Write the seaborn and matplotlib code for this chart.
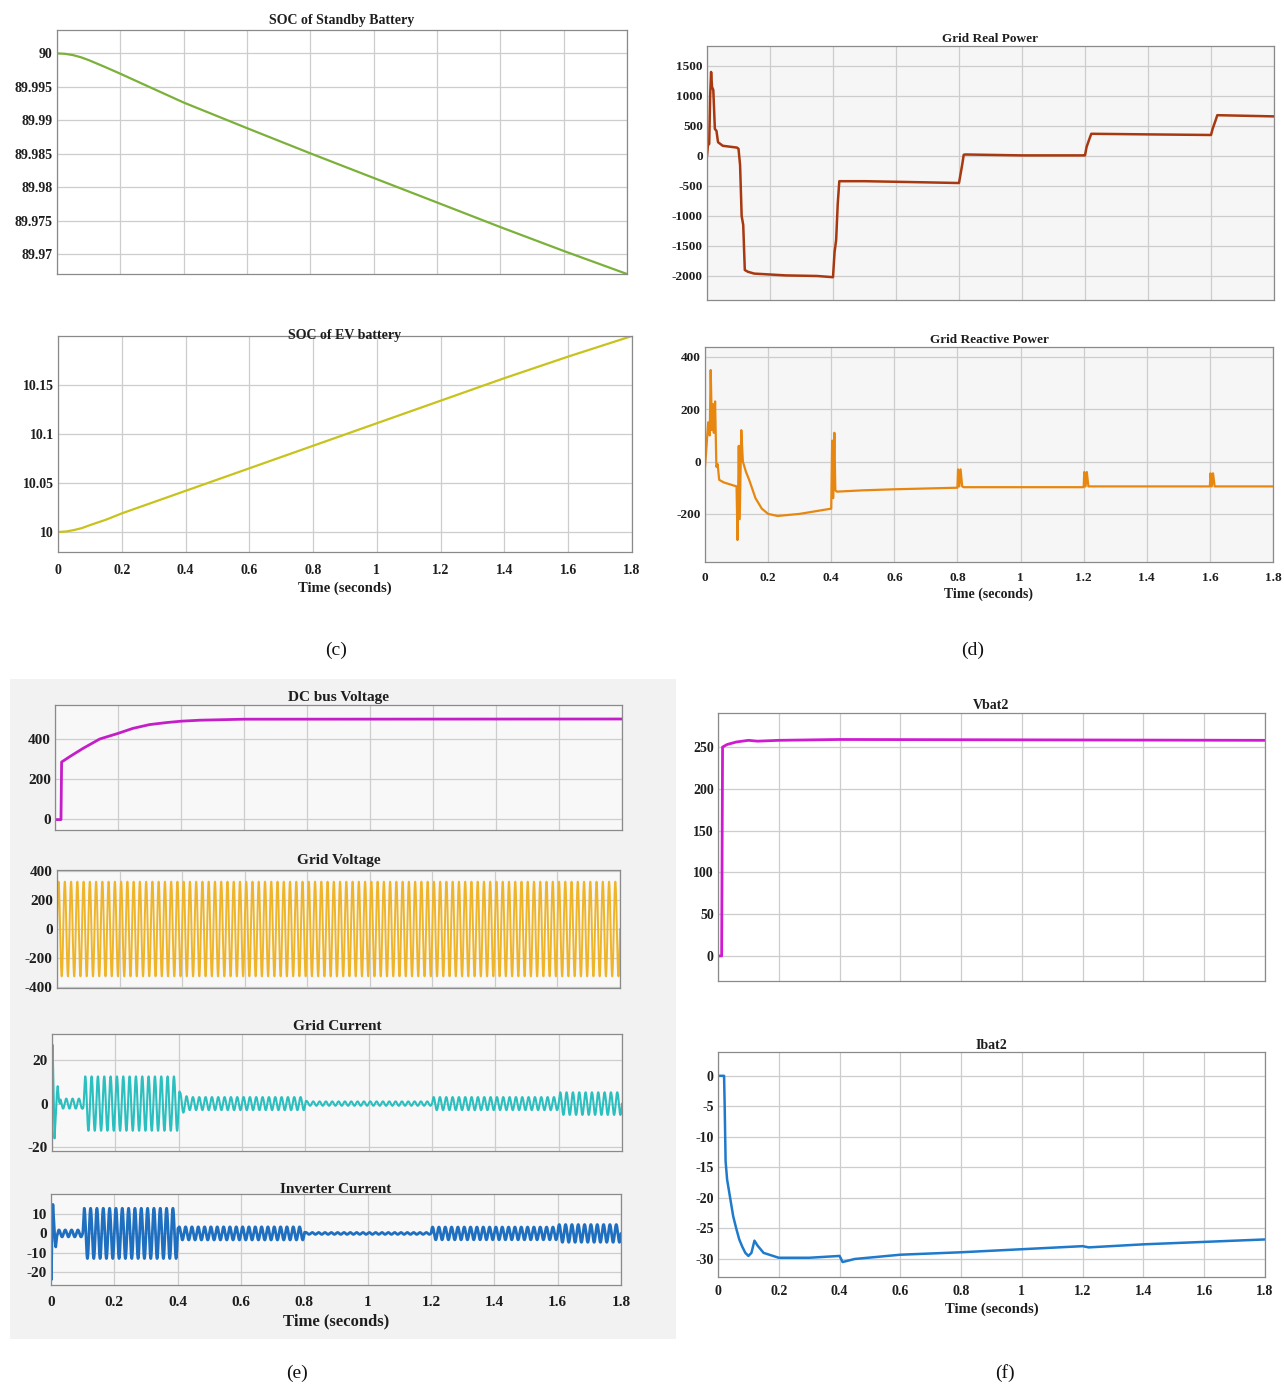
import numpy as np
import matplotlib
matplotlib.use("Agg")
import matplotlib.pyplot as plt
import seaborn as sns
from matplotlib.patches import Rectangle

sns.set_theme(style="whitegrid")
plt.rcParams['font.family'] = ['Liberation Serif', 'DejaVu Serif']
plt.rcParams['font.weight'] = 'bold'
plt.rcParams['axes.unicode_minus'] = False

W, H = 1284, 1387
GRID_FREQ = 50.0          # Hz
DT = 1e-4                 # simulation step, s
T_END = 1.8

time_ticks = [0, 0.2, 0.4, 0.6, 0.8, 1.0, 1.2, 1.4, 1.6, 1.8]
time_tick_labels = ["0", "0.2", "0.4", "0.6", "0.8", "1", "1.2", "1.4", "1.6", "1.8"]

# ---- (c) state of charge ----
soc_sb_t = [0, 0.025, 0.05, 0.075, 0.1, 0.15, 0.2, 0.3, 0.4, 0.6, 0.8, 1.0, 1.2, 1.4, 1.6, 1.8]
soc_sb_v = [90.0, 89.99994, 89.99975, 89.99943, 89.9990, 89.9980, 89.99696, 89.99480,
            89.99265, 89.98882, 89.98505, 89.98137, 89.97770, 89.97402, 89.97045, 89.96700]

soc_ev_t = [0, 0.025, 0.05, 0.075, 0.1, 0.15, 0.2, 0.4, 0.6, 0.8, 1.0, 1.2, 1.4, 1.6, 1.8]
soc_ev_v = [10.0, 10.0005, 10.002, 10.004, 10.007, 10.0125, 10.019, 10.042, 10.065,
            10.088, 10.111, 10.134, 10.157, 10.179, 10.2]

# ---- (d) grid powers ----
rp_t = [0, 0.003, 0.007, 0.01, 0.013, 0.016, 0.02, 0.025, 0.03, 0.035,
        0.05, 0.095, 0.1, 0.105, 0.11, 0.115, 0.12, 0.13, 0.15, 0.25,
        0.35, 0.4, 0.405, 0.41, 0.415, 0.42, 0.5, 0.6, 0.7, 0.795,
        0.8, 0.805, 0.81, 0.815, 0.82, 1.0, 1.195, 1.2, 1.205, 1.215,
        1.22, 1.4, 1.6, 1.605, 1.615, 1.62, 1.8]
rp_v = [0, 180, 200, 1000, 1400, 1150, 1100, 450, 420, 230,
        170, 140, 120, -150, -1000, -1150, -1900, -1930, -1960, -1990,
        -2000, -2020, -1600, -1400, -800, -420, -420, -430, -440, -450,
        -450, -300, -150, 20, 25, 10, 10, 10, 150, 300,
        370, 360, 350, 450, 600, 680, 660]

rq_t = [0, 0.005, 0.01, 0.015, 0.018, 0.022, 0.025, 0.028, 0.032, 0.036,
        0.04, 0.045, 0.06, 0.1, 0.103, 0.107, 0.11, 0.115, 0.12, 0.13,
        0.14, 0.16, 0.18, 0.2, 0.23, 0.3, 0.4, 0.403, 0.406, 0.41,
        0.413, 0.418, 0.5, 0.6, 0.8, 0.802, 0.806, 0.81, 0.815, 0.82,
        1.2, 1.202, 1.206, 1.21, 1.215, 1.22, 1.6, 1.602, 1.606, 1.61,
        1.615, 1.62, 1.8]
rq_v = [-20, 60, 150, 100, 350, 120, 220, 110, 230, -20,
        -10, -70, -80, -95, -300, 60, -220, 120, 0, -40,
        -70, -140, -180, -200, -208, -200, -180, 80, -140, 110,
        -110, -115, -110, -106, -100, -30, -95, -30, -95, -98,
        -98, -40, -95, -40, -95, -95, -95, -45, -95, -45,
        -95, -95, -95]

# ---- (e) converter / grid quantities ----
dc_t = [0, 0.019, 0.021, 0.05, 0.09, 0.142, 0.2, 0.247, 0.3, 0.353, 0.4, 0.46, 0.6, 1.8]
dc_v = [-3, -3, 285, 315, 354, 400, 428, 453, 472, 482, 489, 494, 499, 500]

vg_env_t = [0, 1.8]
vg_env_a = [325, 325]

ig_tr_t = [0, 0.002, 0.005, 0.008, 0.012, 0.015, 0.018, 0.022, 0.025]
ig_tr_v = [0, 27, 5, -16, -6, 4, 8, 1, 0]
ig_env_t = [0, 0.025, 0.027, 0.097, 0.104, 0.4, 0.404, 0.43, 0.8, 0.804,
            1.2, 1.204, 1.6, 1.604, 1.8]
ig_env_a = [0, 0, 2.3, 2.3, 12.5, 12.5, 5, 3, 3, 1, 1, 3, 3, 5.2, 5.2]

ii_tr_t = [0, 0.001, 0.003, 0.006, 0.009, 0.012, 0.015, 0.018, 0.021]
ii_tr_v = [0, -24, 0, 15, 6, -3, -7, -2, 0]
ii_env_t = [0, 0.021, 0.023, 0.1, 0.104, 0.4, 0.402, 0.8, 0.802,
            1.2, 1.202, 1.6, 1.602, 1.8]
ii_env_a = [0, 0, 1.8, 1.8, 13, 13, 3.4, 3.4, 0.5, 0.5, 3.3, 3.3, 4.6, 4.6]

# ---- (f) battery 2 ----
vb_t = [0, 0.012, 0.015, 0.03, 0.06, 0.1, 0.13, 0.2, 0.4, 1.8]
vb_v = [0, 0, 250, 253, 256, 258, 257, 258, 259, 258]

ib_t = [0, 0.02, 0.022, 0.025, 0.03, 0.04, 0.05, 0.06, 0.07, 0.08, 0.09, 0.1, 0.11,
        0.12, 0.13, 0.15, 0.2, 0.3, 0.4, 0.41, 0.45, 0.6, 0.8,
        1.0, 1.2, 1.22, 1.4, 1.6, 1.8]
ib_v = [0, 0, -5, -14, -17, -20, -23, -25, -26.8, -28, -29, -29.5, -29,
        -27, -27.8, -29, -29.8, -29.8, -29.5, -30.5, -30, -29.3, -28.9,
        -28.4, -27.9, -28.1, -27.6, -27.2, -26.8]

captions = ["(c)", "(d)", "(e)", "(f)"]


def ac_signal(env_t, env_a, tr_t=None, tr_v=None):
    """AC waveform at grid frequency with a piecewise amplitude envelope."""
    t = np.arange(0, T_END + DT / 2, DT)
    y = np.interp(t, env_t, env_a) * np.sin(2 * np.pi * GRID_FREQ * t)
    if tr_t is not None:
        mask = t <= tr_t[-1]
        y[mask] += np.interp(t[mask], tr_t, tr_v)
    return t, y


fig = plt.figure(figsize=(W / 100, H / 100), dpi=100)
fig.patch.set_facecolor("white")

# light panel behind group (e)
fig.patches.append(Rectangle((10 / W, 1 - 1339 / H), 666 / W, 660 / H,
                             transform=fig.transFigure, facecolor="#f2f2f2",
                             edgecolor="none", zorder=-5))


def make_axes(box, ylim, yticks, ylabels, title, title_pad, face="white",
              fs=10, xlabels=False, xpad=8):
    x0, y0, x1, y1 = box
    ax = fig.add_axes([x0 / W, 1 - y1 / H, (x1 - x0) / W, (y1 - y0) / H])
    ax.set_facecolor(face)
    ax.set_xlim(0, T_END)
    ax.set_ylim(*ylim)
    ax.set_xticks(time_ticks)
    ax.set_yticks(yticks)
    ax.set_yticklabels(ylabels)
    ax.set_xticklabels(time_tick_labels if xlabels else [])
    ax.grid(True, color="#cdcdcd", lw=0.9)
    for s in ax.spines.values():
        s.set_color("#8a8a8a")
        s.set_linewidth(0.9)
    ax.tick_params(axis="both", direction="in", length=3, color="#8a8a8a",
                   labelsize=fs, labelcolor="#1e1e1e")
    ax.tick_params(axis="y", pad=3)
    ax.tick_params(axis="x", pad=xpad)
    ax.set_title(title, fontsize=fs, fontweight="bold", pad=title_pad, color="#1e1e1e")
    return ax


def draw(ax, t, v, color, lw, xlabel=None, xfs=10.5):
    sns.lineplot(x=np.asarray(t), y=np.asarray(v), ax=ax, color=color, lw=lw,
                 estimator=None, errorbar=None)
    ax.set_ylabel("")
    if xlabel:
        ax.set_xlabel(xlabel, fontsize=xfs, fontweight="bold", labelpad=3, color="#1e1e1e")
    else:
        ax.set_xlabel("")


# (c)
ax = make_axes((57, 30, 627, 274), (89.9670, 90.0035),
               [89.97, 89.975, 89.98, 89.985, 89.99, 89.995, 90.0],
               ["89.97", "89.975", "89.98", "89.985", "89.99", "89.995", "90"],
               "SOC of Standby Battery", 4)
draw(ax, soc_sb_t, soc_sb_v, "#7bb13a", 1.6)

ax = make_axes((58, 336, 632, 552), (9.9796, 10.2),
               [10.0, 10.05, 10.1, 10.15], ["10", "10.05", "10.1", "10.15"],
               "SOC of EV battery", -2, xlabels=True, xpad=9)
draw(ax, soc_ev_t, soc_ev_v, "#c8c31c", 1.6, "Time (seconds)", 10.5)

# (d)
ax = make_axes((707, 46, 1274, 300), (-2400, 1833),
               [-2000, -1500, -1000, -500, 0, 500, 1000, 1500],
               ["-2000", "-1500", "-1000", "-500", "0", "500", "1000", "1500"],
               "Grid Real Power", 3, face="#f6f6f6", fs=9.5)
draw(ax, rp_t, rp_v, "#a8380f", 1.8)

ax = make_axes((705, 347, 1273, 562), (-384, 438),
               [-200, 0, 200, 400], ["-200", "0", "200", "400"],
               "Grid Reactive Power", 3, face="#f6f6f6", fs=9.5, xlabels=True, xpad=7)
draw(ax, rq_t, rq_v, "#e8870f", 1.6, "Time (seconds)", 10)

# (e)
ax = make_axes((55, 705, 622, 830), (-55, 570), [0, 200, 400], ["0", "200", "400"],
               "DC bus Voltage", 3, face="#f8f8f8", fs=11)
draw(ax, dc_t, dc_v, "#c41ec8", 2.0)

ax = make_axes((57, 870, 620, 988), (-405, 405),
               [-400, -200, 0, 200, 400], ["-400", "-200", "0", "200", "400"],
               "Grid Voltage", 4, face="#f8f8f8", fs=11)
t, v = ac_signal(vg_env_t, vg_env_a)
draw(ax, t, v, "#efb52a", 1.4)

ax = make_axes((52, 1034, 622, 1151), (-21.8, 32), [-20, 0, 20], ["-20", "0", "20"],
               "Grid Current", 3, face="#f8f8f8", fs=11)
t, v = ac_signal(ig_env_t, ig_env_a, ig_tr_t, ig_tr_v)
draw(ax, t, v, "#2bbfbf", 1.5)

ax = make_axes((51, 1194, 621, 1285), (-26.7, 20.4),
               [-20, -10, 0, 10], ["-20", "-10", "0", "10"],
               "Inverter Current", 0.5, face="#f8f8f8", fs=11, xlabels=True, xpad=8)
t, v = ac_signal(ii_env_t, ii_env_a, ii_tr_t, ii_tr_v)
draw(ax, t, v, "#1f6fc1", 2.0, "Time (seconds)", 12)

# (f)
ax = make_axes((718, 713, 1265, 981), (-30, 290.7),
               [0, 50, 100, 150, 200, 250], ["0", "50", "100", "150", "200", "250"],
               "Vbat2", 3, fs=10)
draw(ax, vb_t, vb_v, "#d01ad2", 2.0)

ax = make_axes((718, 1052, 1265, 1277), (-32.95, 3.9),
               [-30, -25, -20, -15, -10, -5, 0],
               ["-30", "-25", "-20", "-15", "-10", "-5", "0"],
               "Ibat2", 2, fs=10, xlabels=True, xpad=6)
draw(ax, ib_t, ib_v, "#1f7acc", 1.8, "Time (seconds)", 10.5)

# panel captions
for text, (cx, cy) in zip(captions, [(336, 650), (973, 650), (297, 1373), (1005, 1373)]):
    fig.text(cx / W, 1 - cy / H, text, fontsize=14, fontweight="normal",
             ha="center", va="center", color="#111111")

fig.savefig("out.png", dpi=100)
